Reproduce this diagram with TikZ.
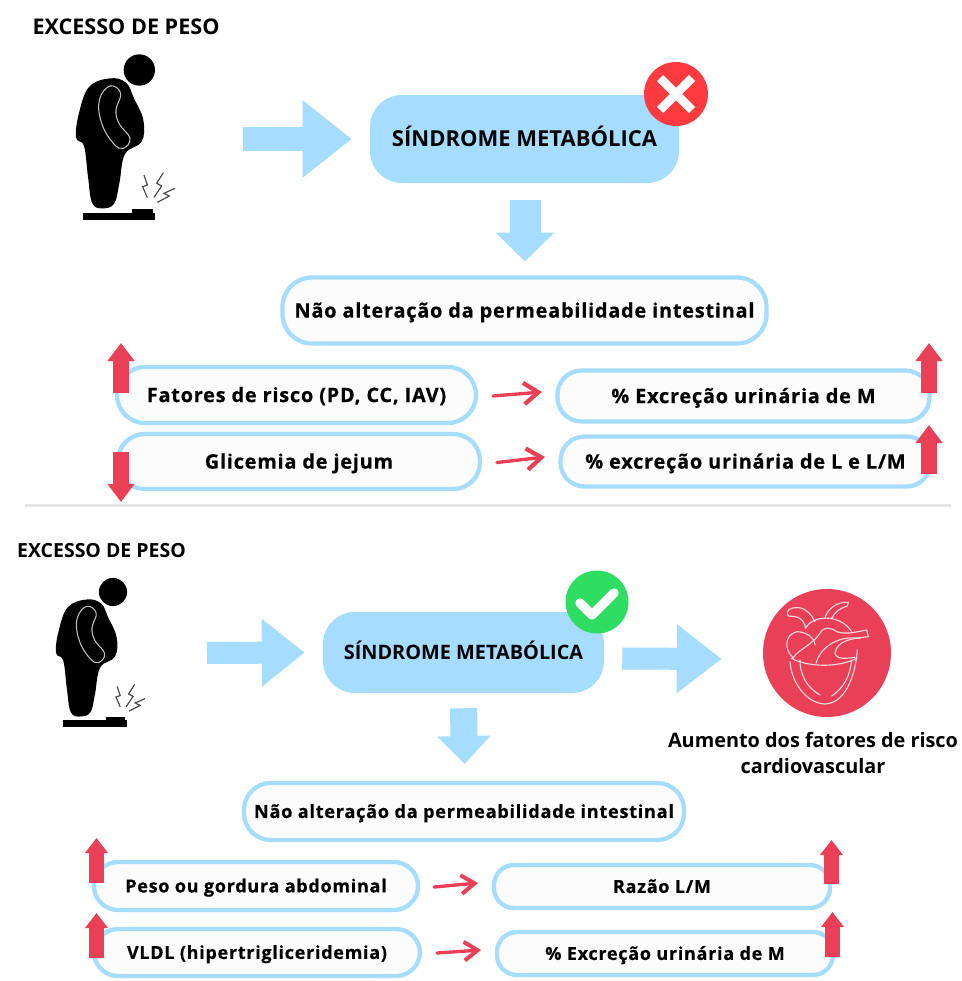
\documentclass[tikz,border=0pt]{standalone}
\usepackage{fontspec}
\setmainfont{Open Sans}
\newfontfamily\spaced[LetterSpace=4,BoldFeatures={FakeBold=0.5}]{Open Sans}
\usetikzlibrary{arrows.meta,calc}
\definecolor{skyfill}{HTML}{A6DCFF}
\definecolor{pillfill}{HTML}{FCFCFC}
\definecolor{redmark}{HTML}{E94057}
\definecolor{crossred}{HTML}{FF3B3F}
\definecolor{okgreen}{HTML}{2EDD62}
\def\px{0.75pt}
\tikzset{
  x=0.75pt,y=-0.75pt,
  heading/.style={text=black,inner sep=0pt,text depth=0pt},
  syndrome/.style={fill=skyfill,rounded corners=24pt,inner sep=0pt,text depth=0pt},
  pill/.style={draw=skyfill,line width=3.2pt,fill=pillfill,rounded corners=18pt,inner sep=0pt,text=black,outer sep=0pt,text depth=0pt},
  pilltext/.style={font=\spaced\bfseries\fontsize{14.9}{18}\selectfont,text height=10.6pt},
  smalltext/.style={font=\spaced\bfseries\fontsize{13.5}{16}\selectfont,text height=9.6pt},
  skyarrow/.style n args={3}{draw=skyfill,line width=#1*\px,-{Triangle[length=#2*\px,width=#3*\px]}},
  redup/.style={draw=redmark,line width=16*\px,-{Triangle[length=18*\px,width=26*\px]}},
  redupsmall/.style={draw=redmark,line width=15*\px,-{Triangle[length=15*\px,width=22*\px]}},
  redthin/.style={draw=redmark,line width=2.5pt,line cap=round,-{Straight Barb[length=11pt,width=16pt,line width=3.2pt]}},
  redthinsmall/.style={redthin,-{Straight Barb[length=10pt,width=14pt,line width=3pt]}},
  bolt/.style={draw=black!70,line width=0.9pt,line join=miter},
  heartline/.style={draw=white,opacity=0.8,line width=0.85pt,line cap=round,line join=round},
  person/.pic={
    \fill[black] (238,90) circle (47);
    \fill[black] plot[smooth cycle,tension=.65] coordinates
      {(150,115) (198,128) (222,175) (250,240) (245,305) (195,342) (178,430) (163,490) (130,505) (97,490) (84,410) (72,318) (48,292) (58,215) (88,140)};
    \draw[draw=black!25,line width=0.8pt] plot[smooth cycle,tension=.7] coordinates
      {(150,138) (182,160) (168,210) (178,252) (210,295) (190,325) (160,310) (125,250) (118,180)};
    \fill[black] (70,518) rectangle (285,541);
    \fill[black] (216,507) rectangle (278,519);
    \draw[bolt] (252,405) -- (262,435) -- (248,440) -- (262,473);
    \draw[bolt] (310,398) -- (290,430) -- (305,438) -- (282,472);
    \draw[bolt] (345,445) -- (312,460) -- (328,468) -- (292,487);
  }
}
\begin{document}
\begin{tikzpicture}
\useasboundingbox (0,0) rectangle (962,981);
\fill[white] (0,0) rectangle (962,981);

% upper panel
\node[heading,font=\bfseries\fontsize{16.2}{19}\selectfont,text height=11.6pt] (title1) at (126,27) {EXCESSO DE PESO};
\begin{scope}[shift={(60,40)},x=.25pt,y=-.25pt]
  \pic {person};
\end{scope}
\node[syndrome,font=\bfseries\fontsize{16.5}{19}\selectfont,text height=11.8pt,minimum width=309*\px,minimum height=88*\px] (sm1) at (524.5,139) {SÍNDROME METABÓLICA};
\fill[crossred] (676,94) circle (32);
\draw[white,line width=6.5pt] (660,78) -- (692,110) (692,78) -- (660,110);
\coordinate (go1) at (243,139);
\draw[skyarrow={24}{49}{74}] (go1) -- ([xshift=-18*\px]sm1.west);
\node[pill,pilltext,rounded corners=22pt,minimum width=484*\px,minimum height=66*\px] (perm1) at (524.5,310.5) {Não alteração da permeabilidade intestinal};
\draw[skyarrow={31}{29}{57}] ([xshift=0.5*\px,yshift=-17*\px]sm1.south) -- ([xshift=0.5*\px,yshift=16*\px]perm1.north);
\node[pill,pilltext,rounded corners=21pt,minimum width=359*\px,minimum height=56*\px] (risk) at (296.5,395) {Fatores de risco (PD, CC, IAV)};
\node[pill,pilltext,rounded corners=20pt,minimum width=362*\px,minimum height=55*\px] (gly) at (299,461.5) {Glicemia de jejum};
\node[pill,pilltext,minimum width=372*\px,minimum height=51*\px] (exm1) at (743.5,396) {\% Excreção urinária de M};
\node[pill,pilltext,minimum width=370*\px,minimum height=50*\px] (exl) at (745.5,461.5) {\% excreção urinária de L e L/M};
\draw[redthin] ([xshift=17*\px,yshift=-1*\px]risk.east) -- ([xshift=-15.5*\px,yshift=4*\px]exm1.west);
\draw[redthin] ([xshift=17*\px,yshift=-1*\px]gly.east) -- ([xshift=-15.5*\px,yshift=4.5*\px]exl.west);
\coordinate (a1) at (121,393); \coordinate (a1t) at (121,343);
\draw[redup] (a1) -- (a1t);
\coordinate (a2) at (121,452); \coordinate (a2t) at (121,502);
\draw[redup] (a2) -- (a2t);
\coordinate (a3) at (929,393); \coordinate (a3t) at (929,343);
\draw[redup] (a3) -- (a3t);
\coordinate (a4) at (929,474); \coordinate (a4t) at (929,425);
\draw[redup] (a4) -- (a4t);

% divider between the two panels
\draw[black!10,line width=2.2pt] (25,505.5) -- (951,505.5);

% lower panel
\node[heading,font=\bfseries\fontsize{14.6}{17}\selectfont,text height=10.4pt] (title2) at (101.5,551) {EXCESSO DE PESO};
\begin{scope}[shift={(41.6,565)},x=.225pt,y=-.225pt]
  \pic {person};
\end{scope}
\node[syndrome,font=\bfseries\fontsize{14.9}{17}\selectfont,text height=10.6pt,minimum width=281*\px,minimum height=81*\px] (sm2) at (463.5,652.5) {SÍNDROME METABÓLICA};
\fill[okgreen] (597,602) circle (31.5);
\draw[white,line width=7pt,line cap=round,line join=round] (580,603) -- (592,615) -- (614,593);
\coordinate (go2) at (207,653);
\draw[skyarrow={22}{43}{65}] (go2) -- ([xshift=-18*\px]sm2.west);
\node[fill=redmark,circle,minimum size=128*\px,inner sep=0pt] (heart) at (827,653) {};
\draw[skyarrow={22}{45}{66}] ([xshift=18*\px,yshift=-6*\px]sm2.east) -- ([xshift=-41*\px,yshift=-6*\px]heart.west);
\begin{scope}[shift={(740,570)},x=.25pt,y=-.25pt]
  \draw[heartline] (150,275) .. controls (155,340) and (200,400) .. (255,402) .. controls (310,400) and (345,330) .. (352,240);
  \draw[heartline] (180,270) .. controls (180,320) and (205,355) .. (240,375);
  \draw[heartline] (275,378) .. controls (310,355) and (330,320) .. (335,270);
  \draw[heartline] (155,265) .. controls (200,290) and (290,295) .. (350,265);
  \draw[heartline] (160,265) .. controls (130,235) and (135,195) .. (170,185) .. controls (200,185) and (225,205) .. (225,225);
  \draw[heartline] (160,262) .. controls (175,240) and (215,225) .. (240,190) .. controls (250,170) and (270,170) .. (290,185) .. controls (320,195) and (350,185) .. (380,180) -- (385,200) .. controls (340,205) and (290,210) .. (285,250) .. controls (290,270) and (320,265) .. (345,262);
  \draw[heartline] (228,280) .. controls (240,235) and (290,195) .. (360,205);
  \draw[heartline] (197,175) .. controls (190,140) and (170,140) .. (145,138) .. controls (135,120) and (150,112) .. (175,113) .. controls (200,115) and (215,135) .. (225,155);
  \draw[heartline] (197,175) .. controls (215,135) and (300,130) .. (335,185);
  \draw[heartline] (255,142) .. controls (265,115) and (290,95) .. (325,97) -- (322,108) .. controls (300,115) and (285,125) .. (275,145);
\end{scope}
\node[align=center,inner sep=0pt,font=\bfseries\fontsize{14.9}{19.5}\selectfont] (risklabel) at (813,753) {Aumento dos fatores de risco\\cardiovascular};
\node[pill,rounded corners=20pt,minimum width=440*\px,minimum height=57*\px,font=\spaced\bfseries\fontsize{13.6}{16}\selectfont,text height=9.7pt] (perm2) at (464,811.5) {Não alteração da permeabilidade intestinal};
\draw[skyarrow={27}{28}{52}] ([yshift=-15*\px]sm2.south) -- ([yshift=19*\px,xshift=0.5*\px]perm2.north);
\node[pill,smalltext,minimum width=324*\px,minimum height=48*\px] (waist) at (256,886) {Peso ou gordura abdominal};
\node[pill,smalltext,minimum width=326*\px,minimum height=47*\px] (vldl) at (257,952.5) {VLDL (hipertrigliceridemia)};
\node[pill,smalltext,rounded corners=15pt,minimum width=336*\px,minimum height=43*\px] (ratio) at (662,886.5) {Razão L/M};
\node[pill,smalltext,rounded corners=15pt,minimum width=336*\px,minimum height=43*\px] (exm2) at (665,953.5) {\% Excreção urinária de M};
\draw[redthinsmall] ([xshift=16*\px,yshift=-1*\px]waist.east) -- ([xshift=-16*\px,yshift=3.5*\px]ratio.west);
\draw[redthinsmall] ([xshift=17*\px,yshift=-0.5*\px]vldl.east) -- ([xshift=-16*\px,yshift=3.5*\px]exm2.west);
\coordinate (b1) at (96.5,883); \coordinate (b1t) at (96.5,838);
\draw[redupsmall] (b1) -- (b1t);
\coordinate (b2) at (96.5,958); \coordinate (b2t) at (96.5,913);
\draw[redupsmall] (b2) -- (b2t);
\coordinate (b3) at (831.5,884); \coordinate (b3t) at (831.5,840);
\draw[redupsmall] (b3) -- (b3t);
\coordinate (b4) at (832.5,957); \coordinate (b4t) at (832.5,912);
\draw[redupsmall] (b4) -- (b4t);
\end{tikzpicture}
\end{document}
